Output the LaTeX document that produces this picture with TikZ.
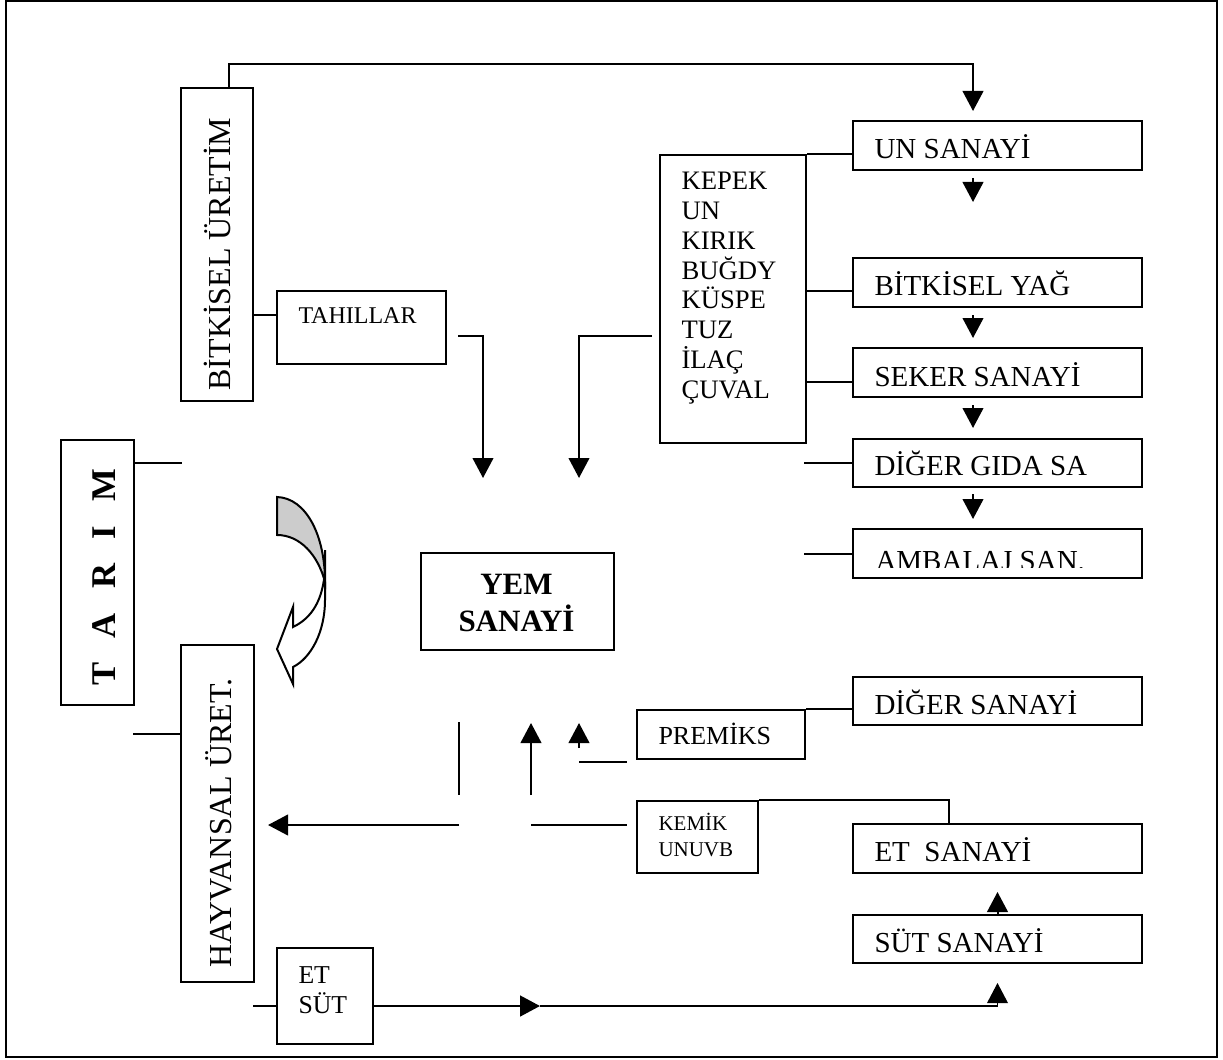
\documentclass[tikz,border=0pt]{standalone}
\usepackage{fontspec}
\setmainfont{Liberation Serif}
\usetikzlibrary{arrows.meta}

\tikzset{every picture/.style={line width=0.75pt}}

\begin{document}
\begin{tikzpicture}[x=0.75pt,y=0.75pt,yscale=-1,xscale=1,
	box/.style n args={2}{draw, line width=1.5, inner sep=0pt, minimum width=#1*0.75pt, minimum height=#2*0.75pt},
	conn/.style={line width=1.5},
	arr/.style={conn, -{Triangle[length=15pt,width=15.5pt]}},
	lbl/.style={anchor=base west, inner sep=0pt, align=left}]
	\useasboundingbox (0,0) rectangle (1223,1059);

	%Shape: Rectangle [frame]
	\draw [line width=1.5] (6,1) rectangle (1217,1057);

	%Shape: Rectangles [left side]
	\node [box={72}{313}] (bitkisel) at (217,244.5) {};
	\node [box={169}{73}] (tahil) at (361.5,327.5) {};
	\node [box={73}{265}] (tarim) at (97.5,572.5) {};
	\node [box={73}{337}] (hayvan) at (217.5,813.5) {};
	\node [box={96}{96}] (etsut) at (325,996) {};
	\node [box={193}{97}] (yem) at (517.5,601.5) {};
	%Shape: Rectangles [middle]
	\node [box={146}{288}] (kepek) at (733,299) {};
	\node [box={168}{49}] (premiks) at (721,734.5) {};
	\node [box={121}{72}] (kemik) at (697.5,837) {};
	%Shape: Rectangles [right column]
	\node [box={289}{49}] (un) at (997.5,145.5) {};
	\node [box={289}{49}] (yag) at (997.5,282.5) {};
	\node [box={289}{49}] (seker) at (997.5,372.5) {};
	\node [box={289}{48}] (gida) at (997.5,463) {};
	\node [box={289}{49}] (ambalaj) at (997.5,553.5) {};
	\node [box={289}{48}] (digersan) at (997.5,701) {};
	\node [box={289}{49}] (et) at (997.5,848.5) {};
	\node [box={289}{48}] (sut) at (997.5,939) {};

	%Shape: Curved Left Arrow
	\draw [line width=1.5, fill=white] (325,550) -- (325,600) .. controls (325,632) and (311,658) .. (293,667) -- (293,684) -- (277,649) -- (293,607) -- (293,627) .. controls (312,618) and (323,600) .. (325,570) -- cycle ;
	\draw [line width=1.5, fill={rgb, 255:red, 204; green, 204; blue, 204}] (277,497) .. controls (306,498) and (325,535) .. (325,582) .. controls (318,555) and (300,535) .. (277,535) -- cycle ;

	%Straight Lines [left side]
	\draw [arr] (bitkisel.north -| 229,0) -- (229,64) -| (973,111);
	\draw [conn] (bitkisel.east |- 0,315) -- (tahil.west |- 0,315);
	\draw [conn] (tarim.east |- 0,463) -- (182,463);
	\draw [conn] (133,734) -- (hayvan.west |- 0,734);
	\draw [conn] (253,1006) -- (etsut.west |- 0,1006);
	\draw [arr, line width=2] (etsut.east |- 0,1006) -- (540,1006);
	\draw [arr, line width=1] (540,1006) -| (997.5,983);
	%Straight Lines [into YEM SANAYi]
	\draw [arr] (458,336) -| (483,478);
	\draw [arr] (652,336) -| (579,478);
	%Straight Lines [KEPEK to the right column]
	\draw [conn] (kepek.north east) -- (kepek.north east -| un.west);
	\draw [conn] (kepek.east |- 0,291) -- (yag.west |- 0,291);
	\draw [conn] (kepek.east |- 0,382) -- (seker.west |- 0,382);
	\draw [conn] (804,463) -- (gida.west);
	\draw [conn] (804,553.5) -- (ambalaj.west);
	\foreach \ya/\yb in {178/202, 315/338, 405/428, 494/519}
		\draw [arr] (973,\ya) -- (973,\yb);
	%Straight Lines [bottom part]
	\draw [arr] (sut.north) -- (997.5,892);
	\draw [conn] (premiks.north east) -- (premiks.north east -| digersan.west);
	\draw [conn] (kemik.north east) -| (et.north -| 949,0);
	\draw [arr] (459,825) -- (268,825);
	\draw [conn] (459,722) -- (459,795);
	\draw [arr] (531,795) -- (531,723);
	\draw [conn] (531,825) -- (627,825);
	\draw [arr] (579,748) -- (579,723);
	\draw [conn] (579,762) -- (627,762);

	% Text Node
	\node [lbl, rotate=90, font=\fontsize{24}{28}\selectfont] at (230,391) {BİTKİSEL ÜRETİM};
	% Text Node
	\node [lbl, font=\fontsize{18}{21}\selectfont] at (298,323) {TAHILLAR};
	% Text Node
	\node [lbl, rotate=90, font=\fontsize{26}{30}\selectfont\bfseries] at (115,686) {T\hspace{0.7em}A\hspace{0.7em}R\hspace{0.7em}I\hspace{0.7em}M};
	% Text Node
	\node [lbl, rotate=90, font=\fontsize{24}{28}\selectfont] at (231,968) {HAYVANSAL ÜRET.};
	% Text Node
	\node [lbl, font=\fontsize{19.3}{22.5}\selectfont] at (298,1013) {ET\\SÜT};
	% Text Node
	\node [lbl, align=center, font=\fontsize{23.25}{27.75}\selectfont\bfseries] at (458,631) {YEM\hspace{0.35em}\\SANAYİ};
	% Text Node
	\node [lbl, font=\fontsize{20}{22.3}\selectfont] at (681,398) {KEPEK\\UN\\KIRIK\\BUĞDY\\KÜSPE\\TUZ\\İLAÇ\\ÇUVAL};
	% Text Node
	\node [lbl, font=\fontsize{19.5}{23}\selectfont] at (658,744) {PREMİKS};
	% Text Node
	\node [lbl, font=\fontsize{15.75}{19.5}\selectfont] at (658,856) {KEMİK\\UNUVB};
	% Text Node
	\node [lbl, font=\fontsize{21.75}{26}\selectfont] at (874,159) {UN SANAYİ};
	% Text Node
	\node [lbl, font=\fontsize{21.75}{26}\selectfont] at (874,295) {BİTKİSEL YAĞ};
	% Text Node
	\node [lbl, font=\fontsize{21.75}{26}\selectfont] at (874,386) {SEKER SANAYİ};
	% Text Node
	\node [lbl, font=\fontsize{21.75}{26}\selectfont] at (874,475) {DİĞER GIDA SA};
	% Text Node
	\begin{scope}
		\clip (853,529) rectangle (1142,567);
		\node [lbl, font=\fontsize{21.75}{26}\selectfont] at (875,570) {AMBALAJ SAN.};
	\end{scope}
	% Text Node
	\node [lbl, font=\fontsize{21.75}{26}\selectfont] at (874,714) {DİĞER SANAYİ};
	% Text Node
	\node [lbl, font=\fontsize{21.75}{26}\selectfont] at (874,861) {ET~ SANAYİ};
	% Text Node
	\node [lbl, font=\fontsize{21.75}{26}\selectfont] at (874,952) {SÜT SANAYİ};

\end{tikzpicture}
\end{document}
